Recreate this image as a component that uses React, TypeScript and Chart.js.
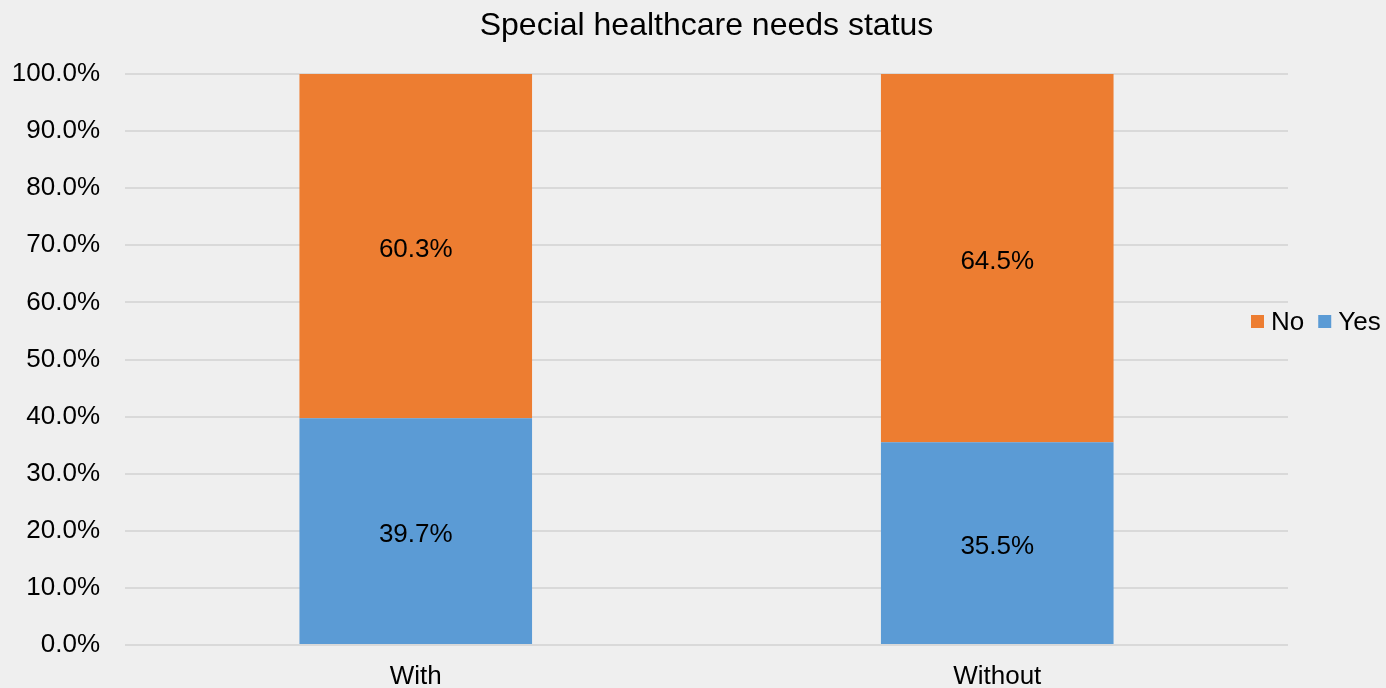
import React, { useEffect, useRef } from "react";
import { Chart, registerables } from "chart.js";

Chart.register(...registerables);

const categories = ["With", "Without"];
const yesValues = [39.7, 35.5];
const noValues = [60.3, 64.5];
const seriesLabels = ["Yes", "No"];
const seriesColors = ["#5B9BD5", "#ED7D31"];
const titleText = "Special healthcare needs status";

const FONT = "'Liberation Sans', Arial, sans-serif";

const dataLabelPlugin = {
  id: "dataLabels",
  afterDatasetsDraw(chart: any) {
    const ctx = chart.ctx;
    ctx.save();
    ctx.font = `26px ${FONT}`;
    ctx.fillStyle = "#000000";
    ctx.textAlign = "center";
    ctx.textBaseline = "middle";
    chart.data.datasets.forEach((ds: any, i: number) => {
      const meta = chart.getDatasetMeta(i);
      meta.data.forEach((bar: any, j: number) => {
        const v = ds.data[j];
        const yc = (bar.y + bar.base) / 2;
        ctx.fillText(v.toFixed(1) + "%", bar.x, yc + 4);
      });
    });
    ctx.restore();
  },
};

const legendPlugin = {
  id: "customLegend",
  afterDraw(chart: any) {
    const ctx = chart.ctx;
    ctx.save();
    ctx.font = `26px ${FONT}`;
    ctx.textBaseline = "middle";
    ctx.textAlign = "left";
    const yc = 322;
    let x = 1251;
    const order = [1, 0];
    order.forEach((i) => {
      const ds = chart.data.datasets[i];
      ctx.fillStyle = ds.backgroundColor;
      ctx.fillRect(x, yc - 7, 13, 13);
      x += 20;
      ctx.fillStyle = "#000000";
      ctx.fillText(ds.label, x, yc + 1);
      x += ctx.measureText(ds.label).width + 14;
    });
    ctx.restore();
  },
};

export default function App() {
  const ref = useRef<HTMLCanvasElement | null>(null);
  useEffect(() => {
    if (!ref.current) return;
    const chart = new Chart(ref.current, {
      type: "bar",
      data: {
        labels: categories,
        datasets: [
          { label: seriesLabels[0], data: yesValues, backgroundColor: seriesColors[0] },
          { label: seriesLabels[1], data: noValues, backgroundColor: seriesColors[1] },
        ],
      },
      plugins: [dataLabelPlugin, legendPlugin],
      options: {
        animation: false,
        responsive: true,
        maintainAspectRatio: false,
        layout: { padding: { left: 0, right: 98, top: 0, bottom: 0 } },
        datasets: { bar: { barPercentage: 0.4, categoryPercentage: 1 } },
        plugins: {
          legend: { display: false },
          tooltip: { enabled: false },
          title: {
            display: true,
            fullSize: false,
            text: titleText,
            color: "#000000",
            font: { family: FONT, size: 32, weight: "normal" },
            padding: { top: 7, bottom: 28.6 },
          },
        },
        scales: {
          x: {
            stacked: true,
            grid: { display: false },
            border: { display: false },
            ticks: { color: "#000000", font: { family: FONT, size: 26 }, padding: 8 },
            afterFit: (s: any) => {
              s.height = 43;
            },
          },
          y: {
            stacked: true,
            min: 0,
            max: 100,
            grid: { color: "#d9d9d9", lineWidth: 2, drawTicks: false },
            border: { display: false },
            ticks: {
              stepSize: 10,
              color: "#000000",
              font: { family: FONT, size: 26 },
              padding: 25,
              callback: (v: any) => Number(v).toFixed(1) + "%",
            },
            afterFit: (s: any) => {
              s.width = 125;
            },
          },
        },
      },
    });
    return () => chart.destroy();
  }, []);
  return (
    <div
      style={{
        position: "fixed",
        left: 0,
        top: 0,
        width: 1386,
        height: 688,
        background: "#efefef",
      }}
    >
      <canvas ref={ref} />
    </div>
  );
}
